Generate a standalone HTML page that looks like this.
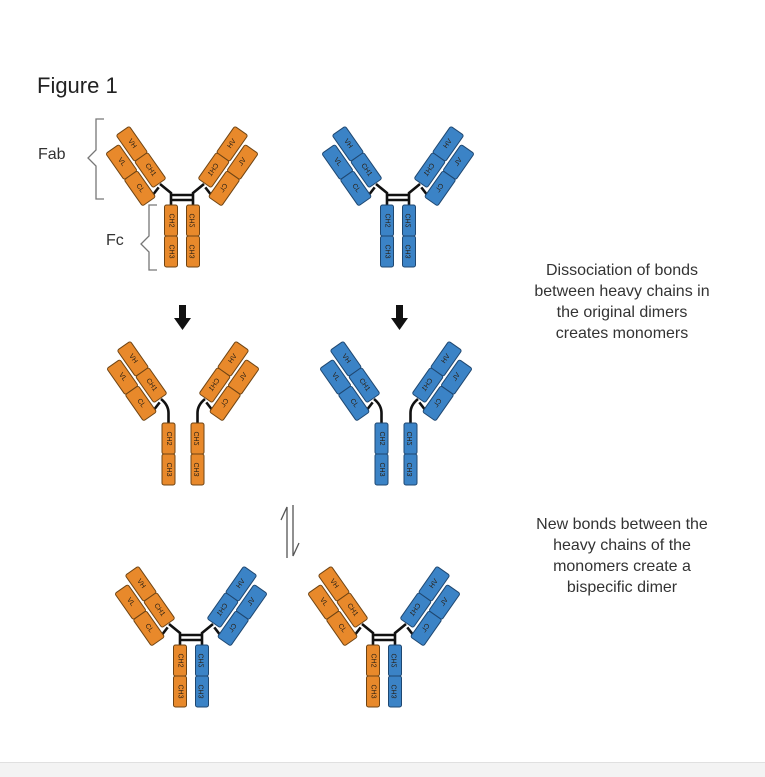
<!DOCTYPE html>
<html><head><meta charset="utf-8"><style>
body{margin:0;background:#fff;width:765px;height:776px;overflow:hidden;position:relative;font-family:"Liberation Sans",sans-serif}
.o rect{fill:#e8892b;stroke:#6e4414;stroke-width:1}
.b rect{fill:#3b83c6;stroke:#1f4770;stroke-width:1}
.k{fill:none;stroke:#111;stroke-width:2.6}
text.s{font-size:7px;fill:#2a2015;text-anchor:middle;dominant-baseline:central;font-family:"Liberation Sans",sans-serif}
.lab{position:absolute;font-size:16px;color:#333;text-align:center;line-height:21px}
</style></head><body>
<div style="position:absolute;left:37px;top:73px;font-size:22px;color:#222">Figure 1</div>
<div style="position:absolute;left:38px;top:146px;font-size:16px;color:#333">Fab</div>
<div style="position:absolute;left:106px;top:232px;font-size:16px;color:#333">Fc</div>
<div class="lab" style="left:512px;top:260px;width:220px">Dissociation of bonds<br>between heavy chains in<br>the original dimers<br>creates monomers</div>
<div class="lab" style="left:512px;top:514px;width:220px">New bonds between the<br>heavy chains of the<br>monomers create a<br>bispecific dimer</div>
<div style="position:absolute;left:0;top:762px;width:765px;height:14px;background:#f3f3f3;border-top:1px solid #e0e0e0"></div>
<svg width="765" height="776" style="position:absolute;left:0;top:0">
<path d="M104,119 L96,119 L96,150 L88,158 L96,166 L96,199 L104,199" fill="none" stroke="#777" stroke-width="1.3"/>
<path d="M157,205 L149,205 L149,236 L141,244 L149,252 L149,270 L157,270" fill="none" stroke="#777" stroke-width="1.3"/>
<g fill="#111"><rect x="179" y="305" width="7" height="14"/><polygon points="174,318 191,318 182.5,330"/>
<rect x="396" y="305" width="7" height="14"/><polygon points="391,318 408,318 399.5,330"/></g>
<path d="M287,558 L287,507 L281,520 M293,505 L293,556 L299,543" fill="none" stroke="#555" stroke-width="1.3"/>

<!-- A top orange -->
<g transform="translate(182,196)">
<g class="k"><line x1="-11" y1="-1" x2="11" y2="-1"/><line x1="-11" y1="4" x2="11" y2="4"/></g>
<g class="o">
<path class="k" d="M-11,9 L-11,-3 L-22,-12"/>
<g transform="translate(-22,-12) rotate(-35)"><line class="k" x1="-19" y1="7" x2="-3" y2="2"/>
<rect x="-8" y="-65" width="16" height="32" rx="2"/><rect x="-8" y="-33" width="16" height="32" rx="2"/><rect x="-27" y="-56" width="16" height="32" rx="2"/><rect x="-27" y="-24" width="16" height="32" rx="2"/>
<text class="s" transform="translate(0,-49) rotate(90)">VH</text><text class="s" transform="translate(0,-17) rotate(90)">CH1</text><text class="s" transform="translate(-19,-40) rotate(90)">VL</text><text class="s" transform="translate(-19,-8) rotate(90)">CL</text></g>
<rect x="-17.5" y="9" width="13" height="31" rx="2"/><rect x="-17.5" y="40" width="13" height="31" rx="2"/>
<text class="s" transform="translate(-11,24.5) rotate(90)">CH2</text><text class="s" transform="translate(-11,55.5) rotate(90)">CH3</text></g>
<g class="o" transform="scale(-1,1)">
<path class="k" d="M-11,9 L-11,-3 L-22,-12"/>
<g transform="translate(-22,-12) rotate(-35)"><line class="k" x1="-19" y1="7" x2="-3" y2="2"/>
<rect x="-8" y="-65" width="16" height="32" rx="2"/><rect x="-8" y="-33" width="16" height="32" rx="2"/><rect x="-27" y="-56" width="16" height="32" rx="2"/><rect x="-27" y="-24" width="16" height="32" rx="2"/>
<text class="s" transform="translate(0,-49) rotate(90)">VH</text><text class="s" transform="translate(0,-17) rotate(90)">CH1</text><text class="s" transform="translate(-19,-40) rotate(90)">VL</text><text class="s" transform="translate(-19,-8) rotate(90)">CL</text></g>
<rect x="-17.5" y="9" width="13" height="31" rx="2"/><rect x="-17.5" y="40" width="13" height="31" rx="2"/>
<text class="s" transform="translate(-11,24.5) rotate(90)">CH2</text><text class="s" transform="translate(-11,55.5) rotate(90)">CH3</text></g>
</g>

<!-- B top blue -->
<g transform="translate(398,196)">
<g class="k"><line x1="-11" y1="-1" x2="11" y2="-1"/><line x1="-11" y1="4" x2="11" y2="4"/></g>
<g class="b">
<path class="k" d="M-11,9 L-11,-3 L-22,-12"/>
<g transform="translate(-22,-12) rotate(-35)"><line class="k" x1="-19" y1="7" x2="-3" y2="2"/>
<rect x="-8" y="-65" width="16" height="32" rx="2"/><rect x="-8" y="-33" width="16" height="32" rx="2"/><rect x="-27" y="-56" width="16" height="32" rx="2"/><rect x="-27" y="-24" width="16" height="32" rx="2"/>
<text class="s" transform="translate(0,-49) rotate(90)">VH</text><text class="s" transform="translate(0,-17) rotate(90)">CH1</text><text class="s" transform="translate(-19,-40) rotate(90)">VL</text><text class="s" transform="translate(-19,-8) rotate(90)">CL</text></g>
<rect x="-17.5" y="9" width="13" height="31" rx="2"/><rect x="-17.5" y="40" width="13" height="31" rx="2"/>
<text class="s" transform="translate(-11,24.5) rotate(90)">CH2</text><text class="s" transform="translate(-11,55.5) rotate(90)">CH3</text></g>
<g class="b" transform="scale(-1,1)">
<path class="k" d="M-11,9 L-11,-3 L-22,-12"/>
<g transform="translate(-22,-12) rotate(-35)"><line class="k" x1="-19" y1="7" x2="-3" y2="2"/>
<rect x="-8" y="-65" width="16" height="32" rx="2"/><rect x="-8" y="-33" width="16" height="32" rx="2"/><rect x="-27" y="-56" width="16" height="32" rx="2"/><rect x="-27" y="-24" width="16" height="32" rx="2"/>
<text class="s" transform="translate(0,-49) rotate(90)">VH</text><text class="s" transform="translate(0,-17) rotate(90)">CH1</text><text class="s" transform="translate(-19,-40) rotate(90)">VL</text><text class="s" transform="translate(-19,-8) rotate(90)">CL</text></g>
<rect x="-17.5" y="9" width="13" height="31" rx="2"/><rect x="-17.5" y="40" width="13" height="31" rx="2"/>
<text class="s" transform="translate(-11,24.5) rotate(90)">CH2</text><text class="s" transform="translate(-11,55.5) rotate(90)">CH3</text></g>
</g>

<!-- C mid orange monomers -->
<g transform="translate(183,411)">
<g class="o">
<path class="k" d="M-14.5,12 L-14.5,2 Q-14.5,-6 -22,-12"/>
<g transform="translate(-22,-12) rotate(-35)"><line class="k" x1="-19" y1="7" x2="-3" y2="2"/>
<rect x="-8" y="-65" width="16" height="32" rx="2"/><rect x="-8" y="-33" width="16" height="32" rx="2"/><rect x="-27" y="-56" width="16" height="32" rx="2"/><rect x="-27" y="-24" width="16" height="32" rx="2"/>
<text class="s" transform="translate(0,-49) rotate(90)">VH</text><text class="s" transform="translate(0,-17) rotate(90)">CH1</text><text class="s" transform="translate(-19,-40) rotate(90)">VL</text><text class="s" transform="translate(-19,-8) rotate(90)">CL</text></g>
<rect x="-21" y="12" width="13" height="31" rx="2"/><rect x="-21" y="43" width="13" height="31" rx="2"/>
<text class="s" transform="translate(-14.5,27.5) rotate(90)">CH2</text><text class="s" transform="translate(-14.5,58.5) rotate(90)">CH3</text></g>
<g class="o" transform="scale(-1,1)">
<path class="k" d="M-14.5,12 L-14.5,2 Q-14.5,-6 -22,-12"/>
<g transform="translate(-22,-12) rotate(-35)"><line class="k" x1="-19" y1="7" x2="-3" y2="2"/>
<rect x="-8" y="-65" width="16" height="32" rx="2"/><rect x="-8" y="-33" width="16" height="32" rx="2"/><rect x="-27" y="-56" width="16" height="32" rx="2"/><rect x="-27" y="-24" width="16" height="32" rx="2"/>
<text class="s" transform="translate(0,-49) rotate(90)">VH</text><text class="s" transform="translate(0,-17) rotate(90)">CH1</text><text class="s" transform="translate(-19,-40) rotate(90)">VL</text><text class="s" transform="translate(-19,-8) rotate(90)">CL</text></g>
<rect x="-21" y="12" width="13" height="31" rx="2"/><rect x="-21" y="43" width="13" height="31" rx="2"/>
<text class="s" transform="translate(-14.5,27.5) rotate(90)">CH2</text><text class="s" transform="translate(-14.5,58.5) rotate(90)">CH3</text></g>
</g>

<!-- D mid blue monomers -->
<g transform="translate(396,411)">
<g class="b">
<path class="k" d="M-14.5,12 L-14.5,2 Q-14.5,-6 -22,-12"/>
<g transform="translate(-22,-12) rotate(-35)"><line class="k" x1="-19" y1="7" x2="-3" y2="2"/>
<rect x="-8" y="-65" width="16" height="32" rx="2"/><rect x="-8" y="-33" width="16" height="32" rx="2"/><rect x="-27" y="-56" width="16" height="32" rx="2"/><rect x="-27" y="-24" width="16" height="32" rx="2"/>
<text class="s" transform="translate(0,-49) rotate(90)">VH</text><text class="s" transform="translate(0,-17) rotate(90)">CH1</text><text class="s" transform="translate(-19,-40) rotate(90)">VL</text><text class="s" transform="translate(-19,-8) rotate(90)">CL</text></g>
<rect x="-21" y="12" width="13" height="31" rx="2"/><rect x="-21" y="43" width="13" height="31" rx="2"/>
<text class="s" transform="translate(-14.5,27.5) rotate(90)">CH2</text><text class="s" transform="translate(-14.5,58.5) rotate(90)">CH3</text></g>
<g class="b" transform="scale(-1,1)">
<path class="k" d="M-14.5,12 L-14.5,2 Q-14.5,-6 -22,-12"/>
<g transform="translate(-22,-12) rotate(-35)"><line class="k" x1="-19" y1="7" x2="-3" y2="2"/>
<rect x="-8" y="-65" width="16" height="32" rx="2"/><rect x="-8" y="-33" width="16" height="32" rx="2"/><rect x="-27" y="-56" width="16" height="32" rx="2"/><rect x="-27" y="-24" width="16" height="32" rx="2"/>
<text class="s" transform="translate(0,-49) rotate(90)">VH</text><text class="s" transform="translate(0,-17) rotate(90)">CH1</text><text class="s" transform="translate(-19,-40) rotate(90)">VL</text><text class="s" transform="translate(-19,-8) rotate(90)">CL</text></g>
<rect x="-21" y="12" width="13" height="31" rx="2"/><rect x="-21" y="43" width="13" height="31" rx="2"/>
<text class="s" transform="translate(-14.5,27.5) rotate(90)">CH2</text><text class="s" transform="translate(-14.5,58.5) rotate(90)">CH3</text></g>
</g>

<!-- E bottom hybrid -->
<g transform="translate(191,636)">
<g class="k"><line x1="-11" y1="-1" x2="11" y2="-1"/><line x1="-11" y1="4" x2="11" y2="4"/></g>
<g class="o">
<path class="k" d="M-11,9 L-11,-3 L-22,-12"/>
<g transform="translate(-22,-12) rotate(-35)"><line class="k" x1="-19" y1="7" x2="-3" y2="2"/>
<rect x="-8" y="-65" width="16" height="32" rx="2"/><rect x="-8" y="-33" width="16" height="32" rx="2"/><rect x="-27" y="-56" width="16" height="32" rx="2"/><rect x="-27" y="-24" width="16" height="32" rx="2"/>
<text class="s" transform="translate(0,-49) rotate(90)">VH</text><text class="s" transform="translate(0,-17) rotate(90)">CH1</text><text class="s" transform="translate(-19,-40) rotate(90)">VL</text><text class="s" transform="translate(-19,-8) rotate(90)">CL</text></g>
<rect x="-17.5" y="9" width="13" height="31" rx="2"/><rect x="-17.5" y="40" width="13" height="31" rx="2"/>
<text class="s" transform="translate(-11,24.5) rotate(90)">CH2</text><text class="s" transform="translate(-11,55.5) rotate(90)">CH3</text></g>
<g class="b" transform="scale(-1,1)">
<path class="k" d="M-11,9 L-11,-3 L-22,-12"/>
<g transform="translate(-22,-12) rotate(-35)"><line class="k" x1="-19" y1="7" x2="-3" y2="2"/>
<rect x="-8" y="-65" width="16" height="32" rx="2"/><rect x="-8" y="-33" width="16" height="32" rx="2"/><rect x="-27" y="-56" width="16" height="32" rx="2"/><rect x="-27" y="-24" width="16" height="32" rx="2"/>
<text class="s" transform="translate(0,-49) rotate(90)">VH</text><text class="s" transform="translate(0,-17) rotate(90)">CH1</text><text class="s" transform="translate(-19,-40) rotate(90)">VL</text><text class="s" transform="translate(-19,-8) rotate(90)">CL</text></g>
<rect x="-17.5" y="9" width="13" height="31" rx="2"/><rect x="-17.5" y="40" width="13" height="31" rx="2"/>
<text class="s" transform="translate(-11,24.5) rotate(90)">CH2</text><text class="s" transform="translate(-11,55.5) rotate(90)">CH3</text></g>
</g>

<!-- F bottom hybrid -->
<g transform="translate(384,636)">
<g class="k"><line x1="-11" y1="-1" x2="11" y2="-1"/><line x1="-11" y1="4" x2="11" y2="4"/></g>
<g class="o">
<path class="k" d="M-11,9 L-11,-3 L-22,-12"/>
<g transform="translate(-22,-12) rotate(-35)"><line class="k" x1="-19" y1="7" x2="-3" y2="2"/>
<rect x="-8" y="-65" width="16" height="32" rx="2"/><rect x="-8" y="-33" width="16" height="32" rx="2"/><rect x="-27" y="-56" width="16" height="32" rx="2"/><rect x="-27" y="-24" width="16" height="32" rx="2"/>
<text class="s" transform="translate(0,-49) rotate(90)">VH</text><text class="s" transform="translate(0,-17) rotate(90)">CH1</text><text class="s" transform="translate(-19,-40) rotate(90)">VL</text><text class="s" transform="translate(-19,-8) rotate(90)">CL</text></g>
<rect x="-17.5" y="9" width="13" height="31" rx="2"/><rect x="-17.5" y="40" width="13" height="31" rx="2"/>
<text class="s" transform="translate(-11,24.5) rotate(90)">CH2</text><text class="s" transform="translate(-11,55.5) rotate(90)">CH3</text></g>
<g class="b" transform="scale(-1,1)">
<path class="k" d="M-11,9 L-11,-3 L-22,-12"/>
<g transform="translate(-22,-12) rotate(-35)"><line class="k" x1="-19" y1="7" x2="-3" y2="2"/>
<rect x="-8" y="-65" width="16" height="32" rx="2"/><rect x="-8" y="-33" width="16" height="32" rx="2"/><rect x="-27" y="-56" width="16" height="32" rx="2"/><rect x="-27" y="-24" width="16" height="32" rx="2"/>
<text class="s" transform="translate(0,-49) rotate(90)">VH</text><text class="s" transform="translate(0,-17) rotate(90)">CH1</text><text class="s" transform="translate(-19,-40) rotate(90)">VL</text><text class="s" transform="translate(-19,-8) rotate(90)">CL</text></g>
<rect x="-17.5" y="9" width="13" height="31" rx="2"/><rect x="-17.5" y="40" width="13" height="31" rx="2"/>
<text class="s" transform="translate(-11,24.5) rotate(90)">CH2</text><text class="s" transform="translate(-11,55.5) rotate(90)">CH3</text></g>
</g>
</svg>
</body></html>
